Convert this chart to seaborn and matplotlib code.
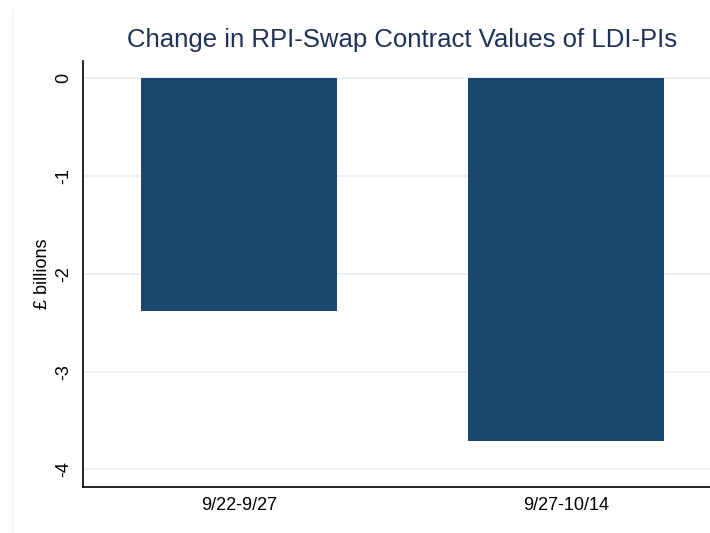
import numpy as np
import pandas as pd
import matplotlib
matplotlib.use("Agg")
import matplotlib.pyplot as plt
import seaborn as sns

# values (GBP billions)
periods = ["9/22-9/27", "9/27-10/14"]
changes = [-2.38, -3.71]
y_ticks = [0, -1, -2, -3, -4]

BAR_COLOR = "#1c476f"
TITLE_COLOR = "#1e3257"

sns.set_style("white")
plt.rcParams["font.family"] = ["Liberation Sans", "DejaVu Sans"]

df = pd.DataFrame({"period": periods, "change": changes})

fig = plt.figure(figsize=(7.10, 5.33), dpi=100)
# axes spills past the right edge, like the cropped original
ax = fig.add_axes([83 / 710, 1 - 487 / 533, (722 - 83) / 710, (487 - 61) / 533])

sns.barplot(data=df, x="period", y="change", color=BAR_COLOR, width=0.6,
            saturation=1, linewidth=0, ax=ax, zorder=3)

ax.set_xlim(-0.477, 1.477)
ax.set_ylim(-4.18, 0.175)
ax.set_yticks(y_ticks)
ax.set_yticklabels([str(t) for t in y_ticks], rotation=90, va="center")
ax.yaxis.grid(True, color="#eaf0f3", linewidth=1.3, zorder=0)
ax.xaxis.grid(False)
ax.set_axisbelow(True)

ax.tick_params(axis="y", length=7, width=1.2, color="#666666", labelsize=13,
               pad=1, labelcolor="black")
ax.tick_params(axis="x", length=0, labelsize=13, pad=7, labelcolor="black")

for side in ["top", "right"]:
    ax.spines[side].set_visible(False)
for side in ["left", "bottom"]:
    ax.spines[side].set_color("black")
    ax.spines[side].set_linewidth(1.2)

ax.set_xlabel("")
ax.set_ylabel("£ billions", fontsize=13, labelpad=3, color="black")

# title centred over the (full, uncropped) plot area
fig.text(402.5 / 710, 1 - 40 / 533, "Change in RPI-Swap Contract Values of LDI-PIs",
         fontsize=18.5, color=TITLE_COLOR, ha="center", va="center")

# faint graph-region border on the left, as in the Stata export
fig.add_artist(plt.Line2D([12 / 710, 12 / 710], [0, 1 - 10 / 533],
                          transform=fig.transFigure, color="#eef3f5", linewidth=1))

fig.savefig("out.png", dpi=100)
